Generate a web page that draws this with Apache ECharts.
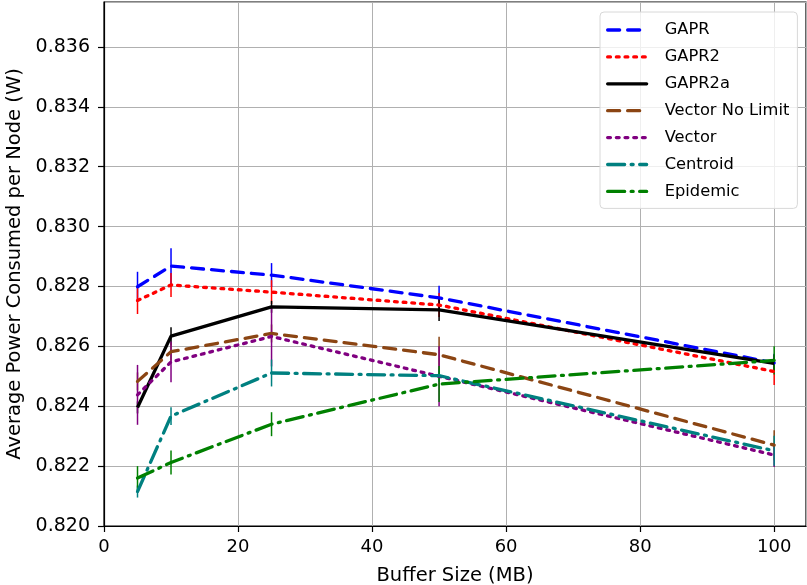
<!DOCTYPE html>
<html><head><meta charset="utf-8">
<script src="https://cdn.jsdelivr.net/npm/echarts@6/dist/echarts.min.js"></script>
<style>html,body{margin:0;padding:0;background:#fff}#c{width:807px;height:585px}</style>
</head><body><div id="c"></div>
<script>
const bufferSize = [5, 10, 25, 50, 100];
const xTicks = [0, 20, 40, 60, 80, 100];
const yTicks = [0.820, 0.822, 0.824, 0.826, 0.828, 0.830, 0.832, 0.834, 0.836];

const gapr = [0.82799, 0.82868, 0.82838, 0.82762, 0.82545];
const gaprErr = [0.0005, 0.0006, 0.0004, 0.0004, 0.0003];
const gapr2 = [0.82753, 0.82805, 0.82781, 0.82738, 0.82516];
const gapr2Err = [0.00045, 0.0004, 0.0004, 0.0004, 0.00045];
const gapr2a = [0.82396, 0.82634, 0.82732, 0.82722, 0.82543];
const gapr2aErr = [0.0002, 0.0003, 0.0002, 0.00037, 0.0003];
const vectorNoLimit = [0.82483, 0.82582, 0.82643, 0.82572, 0.82270];
const vectorNoLimitErr = [0.0003, 0.0003, 0.0003, 0.0006, 0.0005];
const vector = [0.82438, 0.82548, 0.82633, 0.82500, 0.82237];
const vectorErr = [0.001, 0.00068, 0.001, 0.001, 0.0004];
const centroid = [0.82115, 0.82367, 0.82511, 0.82502, 0.82251];
const centroidErr = [0.0002, 0.0003, 0.00045, 0.0002, 0.0005];
const epidemic = [0.82160, 0.82212, 0.82340, 0.82474, 0.82553];
const epidemicErr = [0.0004, 0.0004, 0.0004, 0.0006, 0.00047];

const DASHED = [12, 8];
const DOTTED = [2.8, 5.9];
const DASHDOT = [17, 6.5, 2, 6.5];
const seriesDefs = [
  {name: 'GAPR', vals: gapr, err: gaprErr, color: '#0000ff', type: DASHED},
  {name: 'GAPR2', vals: gapr2, err: gapr2Err, color: '#ff0000', type: DOTTED},
  {name: 'GAPR2a', vals: gapr2a, err: gapr2aErr, color: '#000000', type: 'solid'},
  {name: 'Vector No Limit', vals: vectorNoLimit, err: vectorNoLimitErr, color: '#8b4513', type: DASHED},
  {name: 'Vector', vals: vector, err: vectorErr, color: '#800080', type: DOTTED},
  {name: 'Centroid', vals: centroid, err: centroidErr, color: '#008080', type: DASHDOT},
  {name: 'Epidemic', vals: epidemic, err: epidemicErr, color: '#008000', type: DASHDOT}
];

const FONT = 'DejaVu Sans';
const series = [];
seriesDefs.forEach(d => {
  series.push({
    name: d.name, type: 'line', symbol: 'none', showSymbol: false,
    data: bufferSize.map((x, i) => [x, d.vals[i]]),
    lineStyle: {color: d.color, width: 3.3, type: d.type, cap: d.type === 'solid' ? 'butt' : 'round'},
    itemStyle: {color: d.color},
    emphasis: {disabled: true}, animation: false
  });
  series.push({
    name: d.name + ' err', type: 'custom',
    data: bufferSize.map((x, i) => [x, d.vals[i] - d.err[i], d.vals[i] + d.err[i]]),
    renderItem: (params, api) => {
      const p1 = api.coord([api.value(0), api.value(1)]);
      const p2 = api.coord([api.value(0), api.value(2)]);
      return {type: 'line', shape: {x1: p1[0], y1: p1[1], x2: p2[0], y2: p2[1]},
        style: {stroke: d.color, lineWidth: 1.5}};
    },
    animation: false, silent: true
  });
});

const chart = echarts.init(document.getElementById('c'), null, {renderer: 'canvas'});
chart.setOption({
  animation: false,
  backgroundColor: '#fff',
  grid: {left: 104, right: 1, top: 2, bottom: 59, containLabel: false, outerBoundsMode: 'none',
    show: true, borderColor: '#000', borderWidth: 1.2, backgroundColor: 'transparent'},
  legend: {
    data: seriesDefs.map(d => d.name),
    orient: 'vertical', left: 600, top: 12,
    itemWidth: 39, itemHeight: 14, itemGap: 10.9,
    padding: [10, 8, 9, 6],
    backgroundColor: 'rgba(255,255,255,0.8)', borderColor: '#d8d8d8', borderWidth: 1, borderRadius: 4,
    itemStyle: {opacity: 0},
    lineStyle: {width: 3.3, cap: 'round'},
    textStyle: {fontFamily: FONT, fontSize: 16.3, lineHeight: 14, color: '#000', padding: [0, 0, 0, 13]},
    selectedMode: false
  },
  xAxis: {
    type: 'value', min: 0, max: 104.75, interval: 20,
    name: 'Buffer Size (MB)', nameLocation: 'middle', nameGap: 40,
    nameTextStyle: {fontFamily: FONT, fontSize: 19.5, color: '#000'},
    axisLine: {show: true, lineStyle: {color: '#000', width: 1.2}},
    axisTick: {show: true, inside: false, length: 6, lineStyle: {color: '#000', width: 1.2}},
    axisLabel: {fontFamily: FONT, fontSize: 18, color: '#000', margin: 12, showMaxLabel: false,
      formatter: v => xTicks.includes(v) ? String(v) : ''},
    splitLine: {show: true, lineStyle: {color: '#b0b0b0', width: 1}}
  },
  yAxis: {
    type: 'value', min: 0.820, max: 0.8375, interval: 0.002,
    name: 'Average Power Consumed per Node (W)', nameLocation: 'middle', nameGap: 75,
    nameTextStyle: {fontFamily: FONT, fontSize: 19.5, color: '#000'},
    axisLine: {show: true, lineStyle: {color: '#000', width: 1.2}},
    axisTick: {show: true, inside: false, length: 6, lineStyle: {color: '#000', width: 1.2}},
    axisLabel: {fontFamily: FONT, fontSize: 19, color: '#000', margin: 14, showMaxLabel: false,
      formatter: v => yTicks.some(t => Math.abs(t - v) < 1e-7) ? v.toFixed(3) : ''},
    splitLine: {show: true, lineStyle: {color: '#b0b0b0', width: 1}}
  },
  series: series
});
</script></body></html>
